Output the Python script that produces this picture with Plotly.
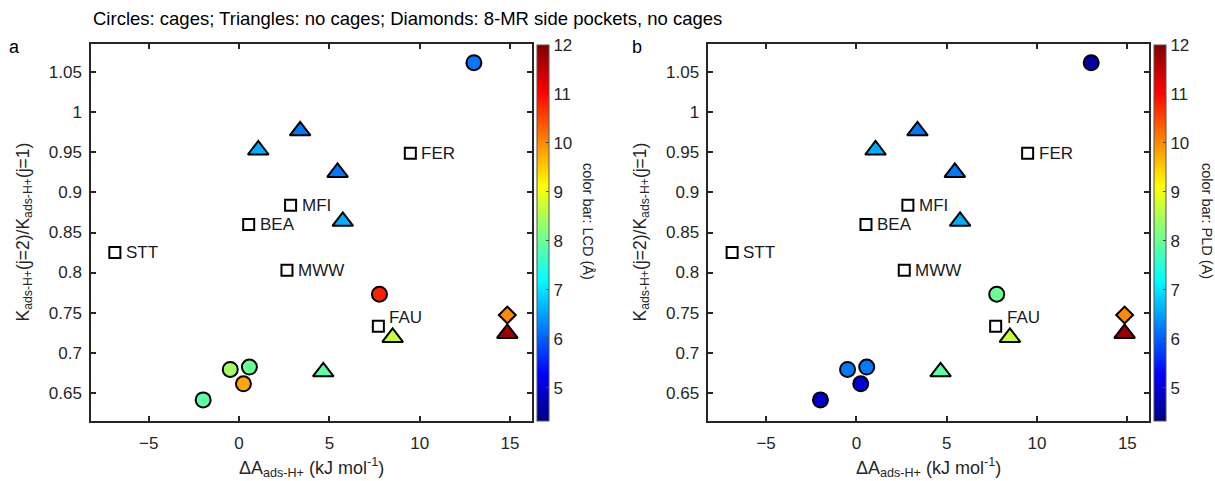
import plotly.graph_objects as go

# ---------------- data ----------------
# circles: zeolites with cages
cage_x = [13.0, 7.77, -0.49, 0.57, 0.24, -1.99]
cage_y = [1.062, 0.773, 0.679, 0.682, 0.661, 0.641]
cage_lcd = [6.2, 10.8, 8.4, 8.0, 9.8, 7.9]
cage_pld = [4.6, 8.0, 6.2, 6.2, 5.0, 4.9]

# triangles: no cages
tri_x = [3.38, 1.06, 5.45, 5.74, 8.5, 14.85, 4.66]
tri_y = [0.977, 0.953, 0.925, 0.864, 0.719, 0.724, 0.676]
tri_lcd = [6.2, 6.6, 6.2, 6.6, 8.7, 11.8, 7.9]
tri_pld = [6.2, 6.6, 6.2, 6.6, 8.7, 11.8, 7.9]

# diamonds: 8-MR side pockets, no cages
dia_x = [14.85]
dia_y = [0.747]
dia_lcd = [10.0]
dia_pld = [10.0]

# open squares: labelled reference frameworks
sq_names = ["STT", "BEA", "MFI", "MWW", "FER", "FAU"]
sq_x = [-6.88, 0.53, 2.85, 2.65, 9.48, 7.71]
sq_y = [0.825, 0.860, 0.884, 0.803, 0.949, 0.733]

x_ticks = [-5, 0, 5, 10, 15]
y_ticks = [0.65, 0.7, 0.75, 0.8, 0.85, 0.9, 0.95, 1.0, 1.05]
y_ticktext = ["0.65", "0.7", "0.75", "0.8", "0.85", "0.9", "0.95", "1", "1.05"]
cbar_ticks = [5, 6, 7, 8, 9, 10, 11, 12]

# ---------------- style ----------------
FONT = "Liberation Sans, Arial, sans-serif"
AX = "#262626"
W, H = 1215, 481
jet = [[0, "rgb(0,0,131)"], [0.125, "rgb(0,0,255)"], [0.375, "rgb(0,255,255)"],
       [0.625, "rgb(255,255,0)"], [0.875, "rgb(255,0,0)"], [1, "rgb(128,0,0)"]]
CMIN, CMAX = 4.33, 12.0

fig = go.Figure()

panels = [
    dict(xa="x", ya="y", cax="coloraxis", cage=cage_lcd, tri=tri_lcd, dia=dia_lcd),
    dict(xa="x2", ya="y2", cax="coloraxis2", cage=cage_pld, tri=tri_pld, dia=dia_pld),
]

for p in panels:
    fig.add_trace(go.Scatter(
        x=sq_x, y=sq_y, mode="markers", xaxis=p["xa"], yaxis=p["ya"],
        marker=dict(symbol="square", size=11, color="white",
                    line=dict(color="black", width=2)),
        showlegend=False, hoverinfo="skip"))
    fig.add_trace(go.Scatter(
        x=cage_x, y=cage_y, mode="markers", xaxis=p["xa"], yaxis=p["ya"],
        marker=dict(symbol="circle", size=15, color=p["cage"], coloraxis=p["cax"],
                    line=dict(color="black", width=2)),
        showlegend=False))
    fig.add_trace(go.Scatter(
        x=tri_x, y=tri_y, mode="markers", xaxis=p["xa"], yaxis=p["ya"],
        marker=dict(symbol="triangle-up", size=18, color=p["tri"], coloraxis=p["cax"],
                    line=dict(color="black", width=2)),
        showlegend=False))
    fig.add_trace(go.Scatter(
        x=dia_x, y=dia_y, mode="markers", xaxis=p["xa"], yaxis=p["ya"],
        marker=dict(symbol="diamond", size=13, color=p["dia"], coloraxis=p["cax"],
                    line=dict(color="black", width=2)),
        showlegend=False))

axis_common = dict(
    showgrid=False, zeroline=False, showline=True, linecolor=AX, linewidth=1.5,
    mirror="ticks", ticks="inside", ticklen=5, tickwidth=1.5, tickcolor=AX,
    tickfont=dict(family=FONT, size=17, color="#262626"),
)

x_dom_a = [91 / W, 531.7 / W]
x_dom_b = [708.3 / W, 1149 / W]
y_dom = [1 - 420.7 / H, 1 - 44.3 / H]

fig.update_layout(
    width=W, height=H, margin=dict(l=0, r=0, t=0, b=0),
    paper_bgcolor="white", plot_bgcolor="white",
    font=dict(family=FONT, color="#262626"),
    xaxis=dict(domain=x_dom_a, range=[-8.2, 16.2], tickvals=x_ticks, anchor="y",
               ticklabelstandoff=6, **axis_common),
    yaxis=dict(domain=y_dom, range=[0.615, 1.085], tickvals=y_ticks, ticktext=y_ticktext,
               anchor="x", ticklabelstandoff=4, **axis_common),
    xaxis2=dict(domain=x_dom_b, range=[-8.2, 16.2], tickvals=x_ticks, anchor="y2",
                ticklabelstandoff=6, **axis_common),
    yaxis2=dict(domain=y_dom, range=[0.615, 1.085], tickvals=y_ticks, ticktext=y_ticktext,
                anchor="x2", ticklabelstandoff=4, **axis_common),
)

cb_common = dict(
    thickness=12, thicknessmode="pixels", len=y_dom[1] - y_dom[0], lenmode="fraction",
    y=y_dom[0], yanchor="bottom", ypad=0, xpad=0, xanchor="left",
    outlinewidth=1, outlinecolor="#555555", tickvals=cbar_ticks,
    ticks="inside", ticklen=3, tickcolor="#444444",
    tickfont=dict(family=FONT, size=17, color="#262626"),
)
fig.update_layout(
    coloraxis=dict(colorscale=jet, cmin=CMIN, cmax=CMAX,
                   colorbar=dict(x=536.7 / W, **cb_common)),
    coloraxis2=dict(colorscale=jet, cmin=CMIN, cmax=CMAX,
                    colorbar=dict(x=1154 / W, **cb_common)),
)

ann = []
# top note
ann.append(dict(text="Circles: cages; Triangles: no cages; Diamonds: 8-MR side pockets, no cages",
                x=91 / W, y=1 - 18 / H, xref="paper", yref="paper", xanchor="left",
                yanchor="middle", showarrow=False, font=dict(size=18.5, family=FONT, color="black")))
# panel letters
ann.append(dict(text="a", x=14 / W, y=1 - 47 / H, xref="paper", yref="paper", showarrow=False,
                xanchor="center", yanchor="middle",
                font=dict(size=18, family=FONT, color="black")))
ann.append(dict(text="b", x=637 / W, y=1 - 47 / H, xref="paper", yref="paper", showarrow=False,
                xanchor="center", yanchor="middle",
                font=dict(size=18, family=FONT, color="black")))

ytitle = "K<sub>ads-H+</sub>(j=2)/K<sub>ads-H+</sub>(j=1)"
xtitle = "ΔA<sub>ads-H+</sub> (kJ mol<sup>-1</sup>)"
for xc_y, xc_x, cb_x, cb_text in [(24, 311, 588, "color bar: LCD (Å)"),
                                  (641, 928.6, 1207, "color bar: PLD (A)")]:
    ann.append(dict(text=ytitle, x=xc_y / W, y=(y_dom[0] + y_dom[1]) / 2, xref="paper",
                    yref="paper", textangle=-90, showarrow=False,
                    xanchor="center", yanchor="middle",
                    font=dict(size=17.5, family=FONT, color="#262626")))
    ann.append(dict(text=xtitle, x=xc_x / W, y=1 - 467 / H, xref="paper", yref="paper",
                    xanchor="center", yanchor="middle",
                    showarrow=False, font=dict(size=18, family=FONT, color="#262626")))
    ann.append(dict(text=cb_text, x=cb_x / W, y=1 - 221 / H, xref="paper", yref="paper",
                    xanchor="center", yanchor="middle",
                    textangle=90, showarrow=False,
                    font=dict(size=14.5, family=FONT, color="#262626")))

# labels next to squares
for xa, ya in [("x", "y"), ("x2", "y2")]:
    for name, xv, yv in zip(sq_names, sq_x, sq_y):
        ann.append(dict(text=name, x=xv, y=yv, xref=xa, yref=ya, xanchor="left",
                        yanchor="middle", xshift=9, yshift=9 if name == "FAU" else 0,
                        showarrow=False, font=dict(size=17, family=FONT, color="#1a1a1a")))

fig.update_layout(annotations=ann)
fig.write_html("out.html")
